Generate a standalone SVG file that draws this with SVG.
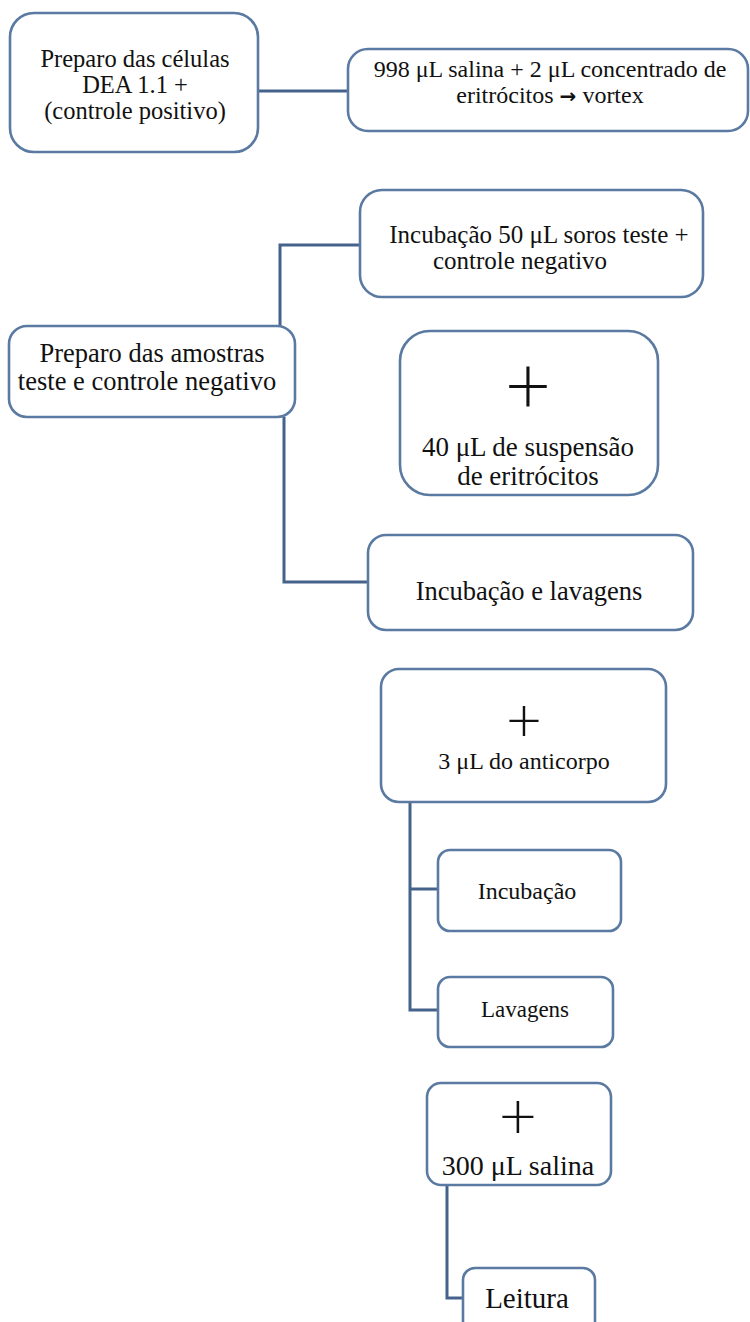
<svg xmlns="http://www.w3.org/2000/svg" width="750" height="1322" viewBox="0 0 750 1322">
<style>
.box{fill:#fff;stroke:#5b7aa2;stroke-width:2.6}
.conn{fill:none;stroke:#45628a;stroke-width:3}
text{font-family:"Liberation Serif","Times New Roman",serif;fill:#111;text-anchor:middle}
.plus{font-family:Lato,"DejaVu Sans",sans-serif;font-weight:300}
.arr{font-family:"DejaVu Sans",sans-serif;font-weight:bold}
</style>
<rect width="750" height="1322" fill="#fff"/>
<g id="connectors">
<path class="conn" d="M258,91 H348"/>
<path class="conn" d="M280,327 V245 H360"/>
<path class="conn" d="M284,417 V582 H368"/>
<path class="conn" d="M410,802 V1010 H438 M410,889 H438"/>
<path class="conn" d="M447,1185 V1298 H463"/>
</g>
<g id="n1"><rect class="box" x="10" y="13" width="248" height="139" rx="24"/>
<text x="135" y="67" font-size="24.5">Preparo das células</text>
<text x="135" y="93" font-size="24.5">DEA 1.1 +</text>
<text x="135" y="119" font-size="24.5">(controle positivo)</text></g>
<g id="n2"><rect class="box" x="348" y="49" width="400" height="82" rx="20"/>
<text x="550" y="77" font-size="24">998 μL salina + 2 μL concentrado de</text>
<text x="550" y="103" font-size="24">eritrócitos <tspan class="arr" font-size="20">→</tspan> vortex</text></g>
<g id="n3"><rect class="box" x="360" y="190" width="343" height="107" rx="22"/>
<text x="539" y="243" font-size="25">Incubação 50 μL soros teste +</text>
<text x="520" y="269" font-size="25">controle negativo</text></g>
<g id="n4"><rect class="box" x="9" y="326" width="286" height="91" rx="18"/>
<text x="152" y="362" font-size="26.5">Preparo das amostras</text>
<text x="147" y="390" font-size="26.5">teste e controle negativo</text></g>
<g id="n5"><rect class="box" x="400" y="331" width="258" height="164" rx="30"/>
<text class="plus" x="528" y="414" font-size="80">+</text>
<text x="528" y="456" font-size="27">40 μL de suspensão</text>
<text x="528" y="485" font-size="27">de eritrócitos</text></g>
<g id="n6"><rect class="box" x="368" y="535" width="325" height="95" rx="18"/>
<text x="529" y="600" font-size="26.5">Incubação e lavagens</text></g>
<g id="n7"><rect class="box" x="381" y="669" width="285" height="133" rx="18"/>
<text class="plus" x="524" y="741" font-size="62">+</text>
<text x="524" y="769" font-size="24">3 μL do anticorpo</text></g>
<g id="n8"><rect class="box" x="438" y="850" width="183" height="81" rx="12"/>
<text x="527" y="899" font-size="24">Incubação</text></g>
<g id="n9"><rect class="box" x="438" y="977" width="175" height="70" rx="12"/>
<text x="525" y="1017" font-size="23">Lavagens</text></g>
<g id="n10"><rect class="box" x="427" y="1083" width="184" height="102" rx="14"/>
<text class="plus" x="518" y="1139" font-size="66">+</text>
<text x="518" y="1175" font-size="28">300 μL salina</text></g>
<g id="n11"><rect class="box" x="463" y="1268" width="132" height="70" rx="12"/>
<text x="527" y="1308" font-size="29">Leitura</text></g>
</svg>
